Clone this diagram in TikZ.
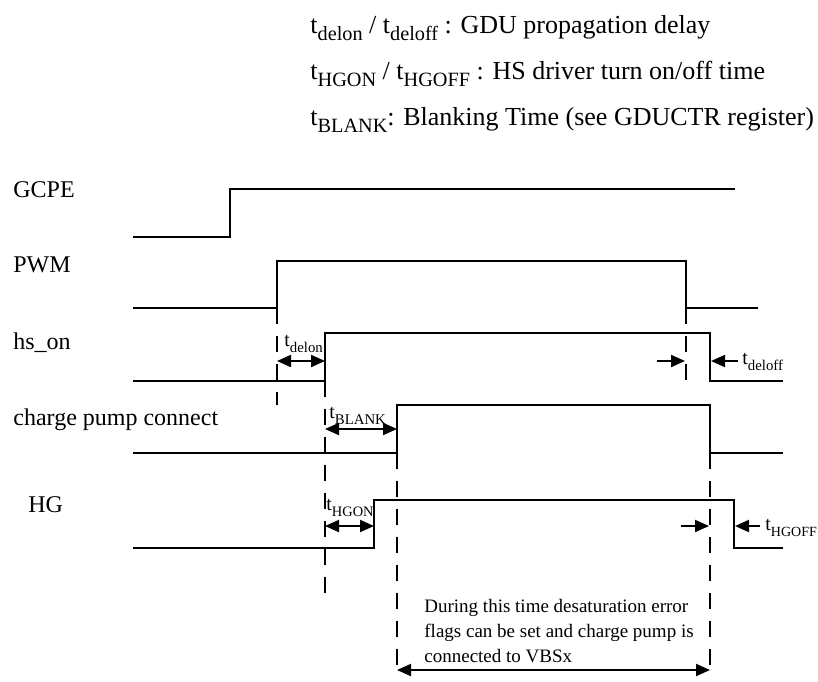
\documentclass[tikz,border=0pt]{standalone}
\usepackage{fontspec}
\setmainfont{Liberation Serif}
\usepackage{graphicx}
\usetikzlibrary{arrows.meta}
\newcommand{\tsub}[2][0.78]{t\raisebox{-0.3em}{\scalebox{#1}{#2}}}

\begin{document}
\begin{tikzpicture}[x=0.5pt,y=-0.5pt,
    wave/.style={line width=1.2pt},
    guide/.style={line width=1pt,dash pattern=on 8pt off 6pt},
    dim/.style={line width=1pt,{Triangle[length=7pt,width=6pt]}-{Triangle[length=7pt,width=6pt]}},
    pin/.style={line width=1pt,-{Triangle[length=7pt,width=6pt]}},
    signame/.style={anchor=base west,inner sep=0pt,font=\fontsize{12}{14}\selectfont},
    legend/.style={anchor=base west,inner sep=0pt,font=\fontsize{13}{15}\selectfont},
    lbl/.style={anchor=base west,inner sep=0pt,font=\fontsize{10}{12}\selectfont}]
  \useasboundingbox (0,0) rectangle (818,681);

  % legend
  \node[legend] (leg1) at (310,33) {\tsub{delon} / \tsub{deloff} : GDU propagation delay};
  \node[legend] (leg2) at (310,79) {\tsub{HGON} / \tsub{HGOFF} : HS driver turn on/off time};
  \node[legend] (leg3) at (310,125) {\tsub{BLANK}: Blanking Time (see GDUCTR register)};

  % signal names
  \node[signame] (gcpe) at (13,197) {GCPE};
  \node[signame] (pwm) at (13,272) {PWM};
  \node[signame] (hson) at (13,349) {hs\_on};
  \node[signame] (cpc) at (13,425) {charge pump connect};
  \node[signame] (hg) at (28,512) {HG};

  % waveforms
  \draw[wave] (133,237) -- (230,237) -- (230,189) -- (735,189);
  \draw[wave] (133,308) -- (277,308) -- (277,261) -- (686,261) -- (686,308) -- (758,308);
  \draw[wave] (133,381) -- (325,381) -- (325,333) -- (710,333) -- (710,381) -- (783,381);
  \draw[wave] (133,453) -- (397,453) -- (397,405) -- (710,405) -- (710,453) -- (783,453);
  \draw[wave] (133,548) -- (374,548) -- (374,500) -- (734,500) -- (734,548) -- (783,548);

  % guide lines
  \draw[guide] (277,308) -- (277,405);
  \draw[guide] (325,381) -- (325,597);
  \draw[guide] (397,453) -- (397,672);
  \draw[guide] (686,308) -- (686,390);
  \draw[guide] (710,453) -- (710,672);

  % timing marks
  \coordinate (delonA) at (277,361);
  \coordinate (delonB) at (325,361);
  \coordinate (blankA) at (325,429);
  \coordinate (blankB) at (397,429);
  \coordinate (hgonA) at (325,526);
  \coordinate (hgonB) at (374,526);
  \coordinate (doffL) at (657,361);
  \coordinate (doffLt) at (685,361);
  \coordinate (doffR) at (738,361);
  \coordinate (doffRt) at (711,361);
  \coordinate (hoffL) at (681,526);
  \coordinate (hoffLt) at (709,526);
  \coordinate (hoffR) at (760,526);
  \coordinate (hoffRt) at (735,526);
  \coordinate (winA) at (397,670);
  \coordinate (winB) at (710,670);

  \draw[dim] (delonA) -- (delonB);
  \draw[dim] (blankA) -- (blankB);
  \draw[dim] (hgonA) -- (hgonB);
  \draw[pin] (doffL) -- (doffLt);
  \draw[pin] (doffR) -- (doffRt);
  \draw[pin] (hoffL) -- (hoffLt);
  \draw[pin] (hoffR) -- (hoffRt);
  \draw[dim] (winA) -- (winB);

  \node[lbl] (tdelon) at (284,346) {\tsub[0.74]{delon}};
  \node[lbl] (tblank) at (329,418) {\tsub[0.74]{BLANK}};
  \node[lbl] (thgon) at (326,510) {\tsub[0.72]{HGON}};
  \node[lbl] (tdeloff) at (742,364) {\tsub[0.74]{deloff}};
  \node[lbl] (thgoff) at (765,530) {\tsub[0.7]{HGOFF}};

  \node[anchor=north west,inner sep=0pt,align=left,font=\fontsize{9.5}{12.5}\selectfont] (note) at (424,599)
    {During this time desaturation error\\flags can be set and charge pump is\\connected to VBSx};
\end{tikzpicture}
\end{document}
